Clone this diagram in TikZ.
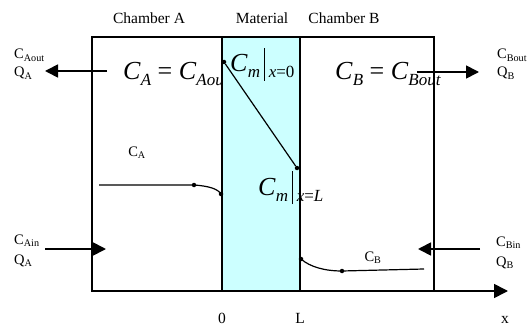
\documentclass[tikz,border=0pt]{standalone}
\usepackage{fontspec}
\setmainfont{Liberation Serif}
\usetikzlibrary{arrows.meta}
\definecolor{matcyan}{RGB}{204,255,255}
\newcommand{\subit}[1]{\raisebox{-6pt}{\fontsize{17}{17}\selectfont\textit{#1}}}
\tikzset{
  lbl/.style={inner sep=0pt, anchor=base west, font=\fontsize{14.5}{17}\selectfont},
  head/.style={inner sep=0pt, anchor=base, font=\fontsize{15.5}{17}\selectfont},
  bigeq/.style={inner sep=0pt, anchor=base west, font=\fontsize{26}{26}\selectfont},
  flow/.style={line width=1.7pt, -{Triangle[length=13pt,width=13pt]}},
  prof/.style={line width=1.2pt},
  pt/.style={circle, fill, inner sep=0pt, minimum size=4.5pt}
}
\begin{document}
\begin{tikzpicture}[x=1pt,y=-1pt]
\useasboundingbox (0,0) rectangle (527,326);
% headings
\node[head] (chA) at (149,23.5) {Chamber A};
\node[head] (mat) at (262,23.5) {Material};
\node[head] (chB) at (344,23.5) {Chamber B};
% chamber A equation, partly hidden by the material
\node[bigeq] (eqA) at (123,80) {\textit{C}\subit{A} = \textit{C}\subit{Aout}};
% material slab and chambers
\fill[matcyan] (222,37) rectangle (300,291);
\draw[line width=1.6pt] (92,37) rectangle (434,291);
\draw[line width=1.6pt] (222,37) -- (222,291);
\draw[line width=1.6pt] (300,37) -- (300,291);
\node[bigeq] (eqB) at (335,80) {\textit{C}\subit{B} = \textit{C}\subit{Bout}};
% membrane concentrations
\node[bigeq] (cm0) at (230,72) {\textit{C}\subit{m}\hspace{4pt}\rule[-9pt]{0.8pt}{33pt}\hspace{4pt}\subit{x}\raisebox{-6pt}{\fontsize{17}{17}\selectfont=0}};
\node[bigeq] (cmL) at (258,195) {\textit{C}\subit{m}\hspace{4pt}\rule[-9pt]{0.8pt}{33pt}\hspace{4pt}\subit{x}\raisebox{-6pt}{\fontsize{17}{17}\selectfont=}\subit{L}};
% axis
\coordinate (o) at (92,291);
\coordinate (xend) at (508,291);
\draw[line width=1.6pt, -{Triangle[length=14pt,width=14pt]}] (o) -- (xend);
\node[head] (zero) at (222,323) {0};
\node[head] (ell) at (300,323) {L};
\node[head] (xlab) at (505,323) {x};
% inflow and outflow
\node[lbl] (cAout) at (14,59) {C\textsubscript{Aout}};
\node[lbl] (qAout) at (14,77) {Q\textsubscript{A}};
\node[lbl] (cBout) at (497,59) {C\textsubscript{Bout}};
\node[lbl] (qBout) at (497,77) {Q\textsubscript{B}};
\node[lbl] (cAin) at (14,244) {C\textsubscript{Ain}};
\node[lbl] (qAin) at (14,264) {Q\textsubscript{A}};
\node[lbl] (cBin) at (496,246) {C\textsubscript{Bin}};
\node[lbl] (qBin) at (496,266) {Q\textsubscript{B}};
\coordinate (aoutS) at (107,71);
\coordinate (aoutE) at (45,71);
\coordinate (boutS) at (417,72);
\coordinate (boutE) at (479,72);
\coordinate (ainS) at (45,249);
\coordinate (ainE) at (106,249);
\coordinate (binS) at (480,249);
\coordinate (binE) at (418,249);
\draw[flow] (aoutS) -- (aoutE);
\draw[flow] (boutS) -- (boutE);
\draw[flow] (ainS) -- (ainE);
\draw[flow] (binS) -- (binE);
% concentration profiles
\node[pt] (m0) at (224,62) {};
\node[pt] (mL) at (297,168) {};
\draw[prof] (m0) -- (mL);
\coordinate (a0) at (99,185);
\node[pt] (a1) at (194,185) {};
\node[pt] (a2) at (221,194) {};
\draw[prof] (a0) -- (a1.center) .. controls (209,186) and (218,189) .. (a2.center);
\node[pt] (b0) at (301,259) {};
\node[pt] (b1) at (342,271) {};
\coordinate (b2) at (424,269);
\draw[prof] (b0.center) .. controls (310,267) and (325,271) .. (b1.center) -- (b2);
\node[lbl, anchor=center] (cA) at (137,153) {C\textsubscript{A}};
\node[lbl, anchor=center] (cB) at (373,258) {C\textsubscript{B}};
\end{tikzpicture}
\end{document}
